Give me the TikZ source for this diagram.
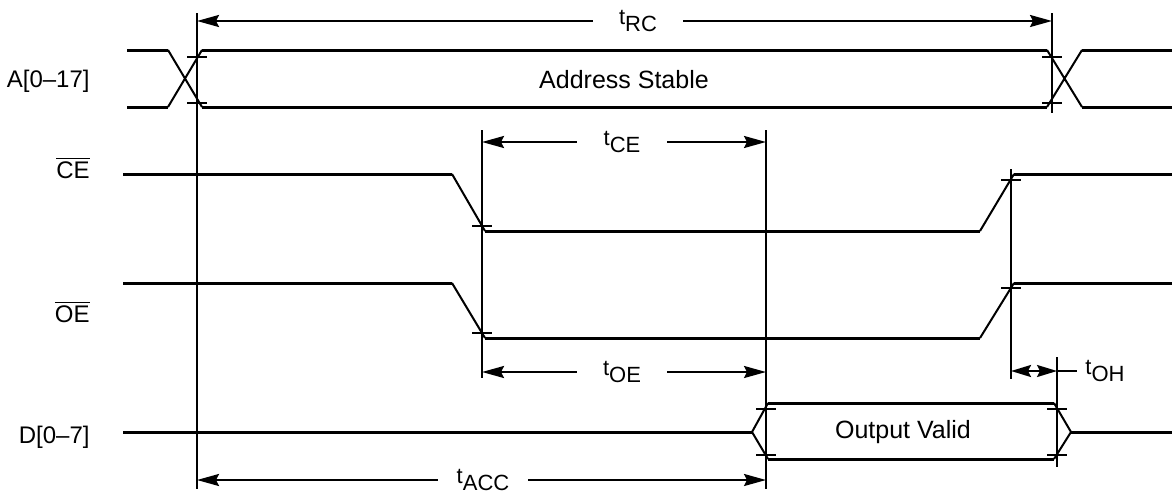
\documentclass[tikz,border=0pt]{standalone}
\usepackage{fontspec}
\setmainfont{Liberation Sans}
\usetikzlibrary{arrows.meta,positioning}
\newcommand{\tpar}[1]{t\raisebox{-3.5pt}{#1}}

\begin{document}
\begin{tikzpicture}[x=0.5pt, y=-0.5pt,
  sig/.style={line width=1.5pt},
  slope/.style={line width=1pt},
  guide/.style={line width=1pt},
  tickmark/.style={line width=0.9pt},
  dimline/.style={line width=1.1pt, -{Stealth[length=11pt,width=6pt,inset=1.5pt]}},
  tlabel/.style={inner sep=0pt, minimum width=45pt, font=\fontsize{11}{11}\selectfont},
  signame/.style={anchor=east, inner sep=0pt, font=\fontsize{12}{14}\selectfont},
  boxtext/.style={inner sep=0pt, font=\fontsize{12.5}{14}\selectfont}]
\useasboundingbox (0,0) rectangle (1172,493);
\node[signame] (addr) at (90,81) {A[0\textendash17]};
\node[signame] (ce) at (90,168) {$\overline{\mbox{CE}}$};
\node[signame] (oe) at (90,312) {$\overline{\mbox{OE}}$};
\node[signame] (data) at (90,437) {D[0\textendash7]};
\node[boxtext] (stable) at (624,80) {Address Stable};
\node[boxtext] (valid) at (903,432) {Output Valid};
\draw[sig] (127,50) -- (168,50) (127,107) -- (168,107);
\draw[slope] (168,50) -- (202,107) (168,107) -- (202,50);
\draw[sig] (202,50) -- (1047,50) (202,107) -- (1047,107);
\draw[slope] (1047,50) -- (1082,107) (1047,107) -- (1082,50);
\draw[sig] (1082,50) -- (1172,50) (1082,107) -- (1172,107);
\draw[sig] (123,174) -- (452,174);
\draw[slope] (452,174) -- (485,231);
\draw[sig] (485,231) -- (980,231);
\draw[slope] (980,231) -- (1014,174);
\draw[sig] (1014,174) -- (1172,174);
\draw[sig] (123,283) -- (452,283);
\draw[slope] (452,283) -- (485,338);
\draw[sig] (485,338) -- (980,338);
\draw[slope] (980,338) -- (1014,283);
\draw[sig] (1014,283) -- (1172,283);
\draw[sig] (123,432) -- (752,432);
\draw[slope] (752,432) -- (768,403) (752,432) -- (768,459);
\draw[sig] (768,403) -- (1054,403) (768,459) -- (1054,459);
\draw[slope] (1054,403) -- (1071,432) -- (1054,459);
\draw[sig] (1071,432) -- (1172,432);
\draw[guide] (197,13) -- (197,489);
\draw[guide] (482,130) -- (482,378);
\draw[guide] (766,130) -- (766,489);
\draw[guide] (1011,169) -- (1011,379);
\draw[guide] (1052,13) -- (1052,113);
\draw[guide] (1057,357) -- (1057,467);
\foreach \x/\y in {197/57,197/103,1052/57,1052/103,482/226,482/333,1011/180,1011/288,766/409,766/455,1057/409,1057/455}
  \draw[tickmark] (\x-10,\y) -- (\x+10,\y);
\node[tlabel] (trc) at (638,21) {\tpar{RC}};
\coordinate (rcL) at (197,21);
\coordinate (rcR) at (1052,21);
\draw[dimline] (trc.west) -- (rcL);
\draw[dimline] (trc.east) -- (rcR);
\node[tlabel] (tce) at (622,142) {\tpar{CE}};
\coordinate (ceL) at (482,142);
\coordinate (ceR) at (766,142);
\draw[dimline] (tce.west) -- (ceL);
\draw[dimline] (tce.east) -- (ceR);
\node[tlabel] (toe) at (622,372) {\tpar{OE}};
\coordinate (oeL) at (482,372);
\coordinate (oeR) at (766,372);
\draw[dimline] (toe.west) -- (oeL);
\draw[dimline] (toe.east) -- (oeR);
\node[tlabel] (tacc) at (483,480) {\tpar{ACC}};
\coordinate (accL) at (197,480);
\coordinate (accR) at (766,480);
\draw[dimline] (tacc.west) -- (accL);
\draw[dimline] (tacc.east) -- (accR);
\coordinate (ohL) at (1011,371);
\coordinate (ohR) at (1057,371);
\node[tlabel, minimum width=0pt, inner xsep=4pt, anchor=west] (toh) at (1077,371) {\tpar{OH}};
\draw[line width=1.1pt, {Stealth[length=10pt,width=6pt,inset=1.5pt]}-{Stealth[length=10pt,width=6pt,inset=1.5pt]}] (ohL) -- (ohR);
\draw[line width=1.1pt] (ohR) -- (toh.west);
\end{tikzpicture}
\end{document}
